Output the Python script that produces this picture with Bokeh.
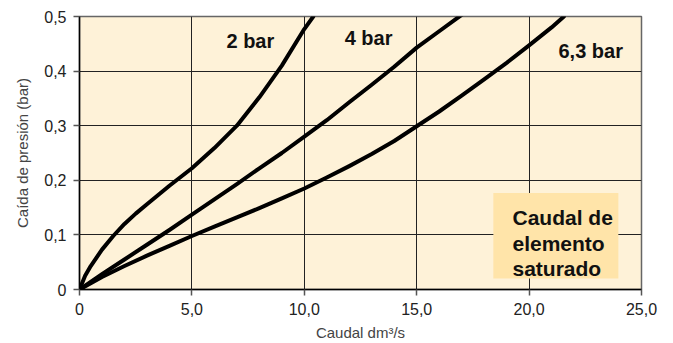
from bokeh.plotting import figure
from bokeh.models import FixedTicker, Range1d
from bokeh.core.properties import value
from bokeh.embed import file_html
from bokeh.resources import INLINE

# Data
x_2bar = [0, 0.25, 0.5, 1, 1.5, 2, 2.5, 3, 3.5, 4, 5, 6, 7, 8, 9, 10, 10.4]
y_2bar = [0, 0.025, 0.043, 0.073, 0.098, 0.120, 0.139, 0.156, 0.173, 0.190, 0.222, 0.259, 0.300, 0.352, 0.410, 0.477, 0.5]

x_4bar = [0, 1, 2, 3, 4, 5, 6, 7, 8, 9, 10, 11, 12, 13, 14, 15, 16, 17]
y_4bar = [0, 0.028, 0.055, 0.082, 0.109, 0.137, 0.165, 0.193, 0.222, 0.250, 0.280, 0.310, 0.343, 0.375, 0.408, 0.443, 0.473, 0.503]

x_63bar = [0, 1, 2, 3, 4, 5, 6, 7, 8, 9, 10, 11, 12, 13, 14, 15, 16, 17, 18, 19, 20, 21, 21.55]
y_63bar = [0, 0.023, 0.043, 0.062, 0.080, 0.098, 0.115, 0.132, 0.149, 0.167, 0.185, 0.205, 0.226, 0.248, 0.272, 0.299, 0.326, 0.355, 0.385, 0.415, 0.447, 0.480, 0.5]

curve_labels = ["2 bar", "4 bar", "6,3 bar"]
label_x = [7.6, 12.86, 22.74]
label_y = [0.456, 0.46, 0.4375]

x_ticks = [0, 5, 10, 15, 20, 25]
x_tick_labels = ["0", "5,0", "10,0", "15,0", "20,0", "25,0"]
y_ticks = [0, 0.1, 0.2, 0.3, 0.4, 0.5]
y_tick_labels = ["0", "0,1", "0,2", "0,3", "0,4", "0,5"]

box_lines = ["Caudal de", "elemento", "saturado"]
box_line_y = [0.1316, 0.0841, 0.0384]
box_x0, box_x1, box_y0, box_y1 = 18.41, 23.97, 0.0201, 0.1766
box_text_x = 19.26

FONT = "Liberation Sans"

p = figure(width=665, height=343, output_backend="svg", toolbar_location=None,
           x_range=Range1d(0, 25), y_range=Range1d(0, 0.5),
           min_border_left=79, min_border_right=24, min_border_top=16, min_border_bottom=54)

p.background_fill_color = "#FEF2D8"
p.border_fill_color = "white"
p.outline_line_color = "#666666"
p.outline_line_width = 1.5

for ax in (p.xaxis[0], p.yaxis[0]):
    ax.axis_line_color = "black"
    ax.axis_line_width = 1.5
    ax.major_tick_line_color = "#555555"
    ax.major_tick_line_width = 1.5
    ax.major_tick_out = 6
    ax.major_tick_in = 0
    ax.minor_tick_line_color = None
    ax.major_label_text_font = FONT
    ax.major_label_text_font_size = "16px"
    ax.major_label_text_color = "#222222"
    ax.major_label_standoff = 7
    ax.axis_label_text_font = FONT
    ax.axis_label_text_font_size = "15px"
    ax.axis_label_text_font_style = "normal"
    ax.axis_label_text_color = "#444444"

p.xaxis[0].ticker = FixedTicker(ticks=x_ticks)
p.xaxis[0].major_label_overrides = {t: l for t, l in zip(x_ticks, x_tick_labels)}
p.yaxis[0].ticker = FixedTicker(ticks=y_ticks)
p.yaxis[0].major_label_overrides = {t: l for t, l in zip(y_ticks, y_tick_labels)}
p.xaxis[0].axis_label = "Caudal dm³/s"
p.yaxis[0].axis_label = "Caída de presión (bar)"
p.xaxis[0].major_label_standoff = 7
p.xaxis[0].axis_label_standoff = 6
p.yaxis[0].axis_label_standoff = 10

p.grid.grid_line_color = "#222222"
p.grid.grid_line_width = 1
p.xgrid.ticker = FixedTicker(ticks=x_ticks)
p.ygrid.ticker = FixedTicker(ticks=y_ticks)

# saturated-flow box
p.quad(left=[box_x0], right=[box_x1], bottom=[box_y0], top=[box_y1],
       fill_color="#FFE4A9", line_color=None)
p.text(x=[box_text_x] * 3, y=box_line_y, text=box_lines,
       text_font=value(FONT), text_font_style="bold", text_font_size="21px",
       text_color="#111111", text_baseline="alphabetic", text_align="left")

for xs, ys in ((x_2bar, y_2bar), (x_4bar, y_4bar), (x_63bar, y_63bar)):
    p.line(xs, ys, line_color="black", line_width=4, line_join="round", line_cap="round")

p.text(x=label_x, y=label_y, text=curve_labels,
       text_font=value(FONT), text_font_style="bold", text_font_size="20px",
       text_color="#111111", text_baseline="middle", text_align="center")

open("out.html", "w").write(file_html(p, INLINE))
